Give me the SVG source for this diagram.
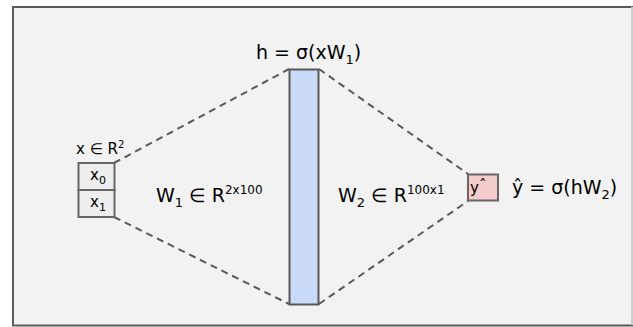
<svg xmlns="http://www.w3.org/2000/svg" width="633" height="327" viewBox="0 0 633 327">
<style>
text { font-family: "DejaVu Sans", "Liberation Sans", sans-serif; fill: #000; }
.big { font-size: 19px; }
.mid { font-size: 15px; }
.box { stroke: #666; stroke-width: 2; }
.conn { stroke: #595959; stroke-width: 2; stroke-dasharray: 7 5; fill: none; }
</style>
<rect x="0" y="0" width="633" height="327" fill="#ffffff"/>
<rect x="13" y="7" width="621" height="318.5" fill="#f2f2f2" stroke="#5a5a5a" stroke-width="2"/>
<line x1="632" y1="7" x2="632" y2="325" stroke="#cccccc" stroke-width="2"/>
<g id="connectors">
<line class="conn" x1="114" y1="163" x2="289" y2="69"/>
<line class="conn" x1="114" y1="217" x2="289" y2="304"/>
<line class="conn" x1="319" y1="69" x2="468" y2="174"/>
<line class="conn" x1="319" y1="304" x2="468" y2="201"/>
</g>
<g id="input">
<text class="mid" x="76" y="154">x ∈ R<tspan font-size="10" dy="-6">2</tspan></text>
<rect class="box" x="78.5" y="163" width="36" height="27" fill="#eeeeee"/>
<rect class="box" x="78.5" y="190" width="36" height="27" fill="#eeeeee"/>
<text class="mid" x="90" y="180">x<tspan font-size="11" dy="4">0</tspan></text>
<text class="mid" x="90" y="207">x<tspan font-size="11" dy="4">1</tspan></text>
</g>
<g id="hidden">
<rect x="289.5" y="69.5" width="29" height="235" fill="#c9daf8" stroke="#595959" stroke-width="2"/>
<text class="big" x="256" y="59">h = σ(xW<tspan font-size="13" dy="5">1</tspan><tspan dy="-5">)</tspan></text>
</g>
<g id="w1">
<text class="big" x="156" y="202">W<tspan font-size="13" dy="5">1</tspan><tspan dy="-5"> ∈ R</tspan><tspan font-size="12" dy="-8">2x100</tspan></text>
</g>
<g id="w2">
<text class="big" x="338" y="202">W<tspan font-size="13" dy="5">2</tspan><tspan dy="-5"> ∈ R</tspan><tspan font-size="12" dy="-8">100x1</tspan></text>
</g>
<g id="output">
<rect class="box" x="468" y="174.5" width="30" height="26" fill="#f4cccc"/>
<text class="mid" x="470" y="193">y<tspan dy="-2">ˆ</tspan></text>
<text class="big" x="512" y="194">ŷ = σ(hW<tspan font-size="13" dy="5">2</tspan><tspan dy="-5">)</tspan></text>
</g>
</svg>
